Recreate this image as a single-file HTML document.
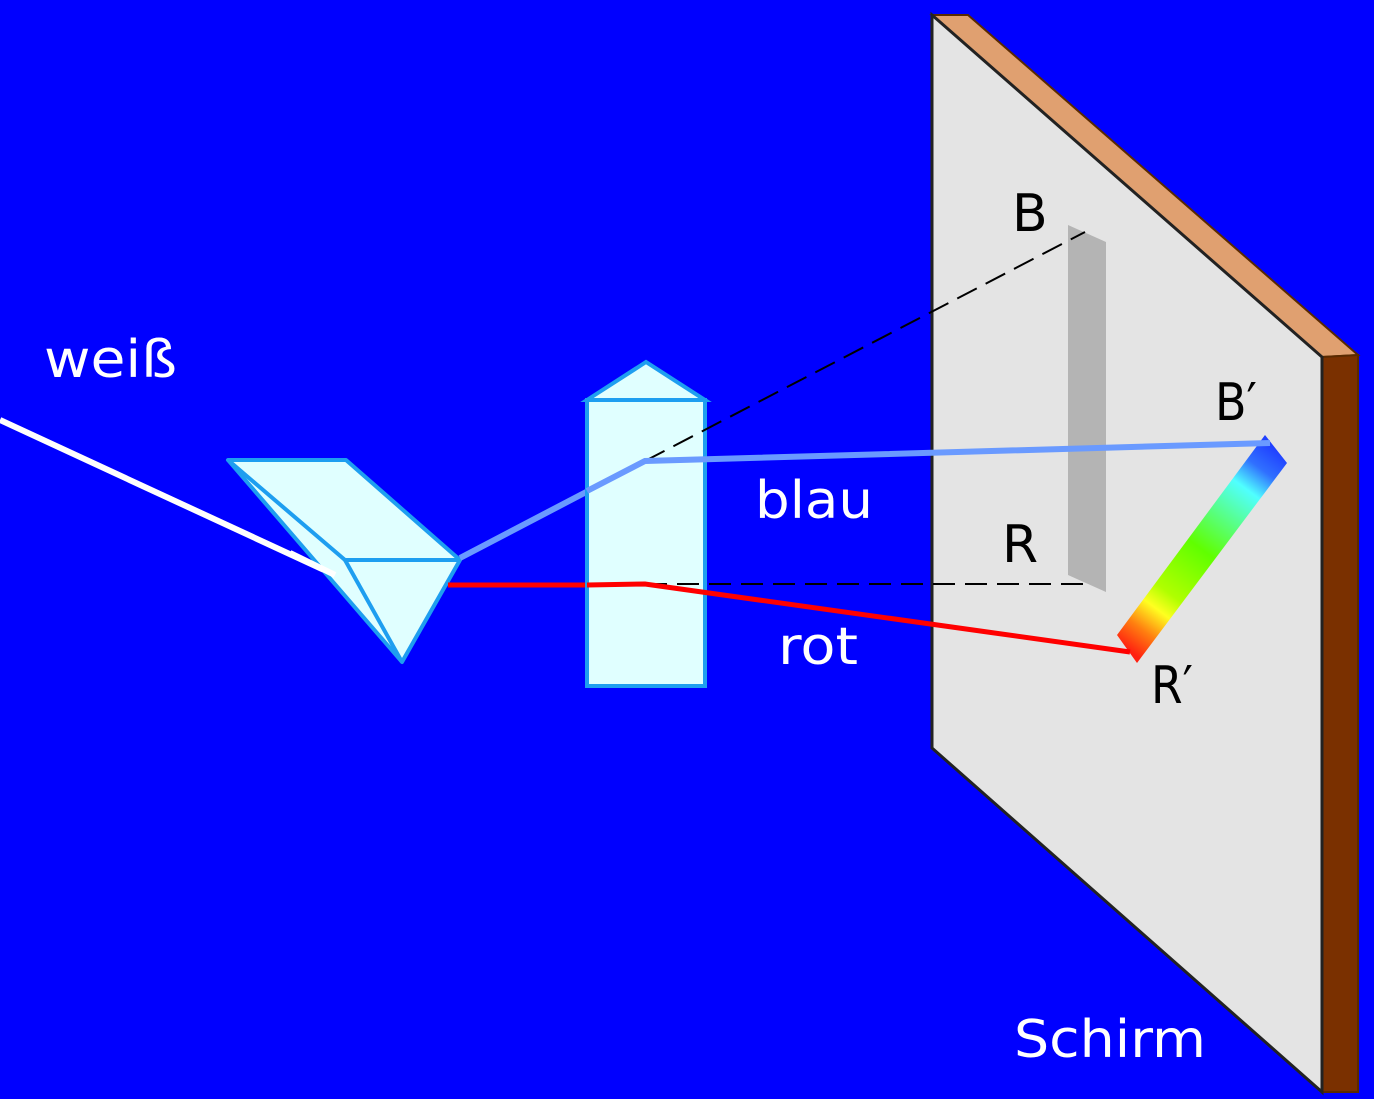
<!DOCTYPE html>
<html><head><style>body{margin:0;background:#0000ff}svg{display:block}text{font-family:"DejaVu Sans","Liberation Sans",sans-serif;font-size:52px}</style></head><body>
<svg width="1374" height="1099" viewBox="0 0 1374 1099">
<defs><linearGradient id="sp" gradientUnits="userSpaceOnUse" x1="1276" y1="449" x2="1127" y2="649">
<stop offset="0" stop-color="#2040ff"/><stop offset="0.1" stop-color="#3070ff"/><stop offset="0.2" stop-color="#50ffff"/><stop offset="0.5" stop-color="#60ff00"/><stop offset="0.72" stop-color="#b0ff00"/><stop offset="0.8" stop-color="#ffff20"/><stop offset="0.9" stop-color="#ff8010"/><stop offset="1" stop-color="#ff2010"/></linearGradient></defs>
<rect width="1374" height="1099" fill="#0000ff"/>
<polygon points="932,15 968,15 1358,355 1322,357" fill="#e0a070" stroke="#5a2a00" stroke-width="2"/>
<polygon points="1322,357 1358,355 1358,1092 1322,1092" fill="#7a3000" stroke="#5a2a00" stroke-width="2"/>
<polygon points="932,15 1322,357 1322,1092 932,748" fill="#e4e4e4" stroke="#222" stroke-width="3"/>
<polygon points="1068,225 1106,242 1106,592 1068,575" fill="#b4b4b4"/>
<polygon points="1265,435 1287,463 1137,663 1117,635" fill="url(#sp)"/>
<line x1="0" y1="420" x2="335" y2="575" stroke="#fff" stroke-width="6"/>
<g fill="#e0ffff" stroke="#1e9ef0" stroke-width="4" stroke-linejoin="round">
<polygon points="228,460 346,460 460,560 402,662"/>
<polyline points="228,460 345,560 460,560" fill="none"/>
<line x1="345" y1="560" x2="402" y2="662"/>
</g>
<line x1="290" y1="553" x2="335" y2="575" stroke="#fff" stroke-width="6"/>
<line x1="460" y1="558" x2="590" y2="490" stroke="#6a9aff" stroke-width="6"/>
<line x1="448" y1="585" x2="590" y2="585" stroke="#ff0000" stroke-width="5"/>
<g fill="#e0ffff" stroke="#1e9ef0" stroke-width="4">
<polygon points="587,400 646,362 705,400"/>
<rect x="587" y="400" width="118" height="286"/>
</g>
<line x1="645" y1="461" x2="1085" y2="232" stroke="#000" stroke-width="2" stroke-dasharray="22,10"/>
<line x1="645" y1="584" x2="1090" y2="584" stroke="#000" stroke-width="2" stroke-dasharray="22,10"/>
<polyline points="587,491 645,461 1270,443" fill="none" stroke="#6a9aff" stroke-width="6"/>
<polyline points="587,585 645,584 1130,652" fill="none" stroke="#ff0000" stroke-width="5"/>
<text x="44" y="377" fill="#fff" textLength="133" lengthAdjust="spacingAndGlyphs">weiß</text>
<text x="755" y="518" fill="#fff" textLength="118" lengthAdjust="spacingAndGlyphs">blau</text>
<text x="778" y="664" fill="#fff" textLength="80" lengthAdjust="spacingAndGlyphs">rot</text>
<text x="1012" y="231" fill="#000">B</text>
<text x="1002" y="562" fill="#000">R</text>
<text x="1215" y="420" fill="#000" textLength="42" lengthAdjust="spacingAndGlyphs">B′</text>
<text x="1151" y="703" fill="#000" textLength="42" lengthAdjust="spacingAndGlyphs">R′</text>
<text x="1014" y="1057" fill="#fff" textLength="192" lengthAdjust="spacingAndGlyphs">Schirm</text>
</svg></body></html>
